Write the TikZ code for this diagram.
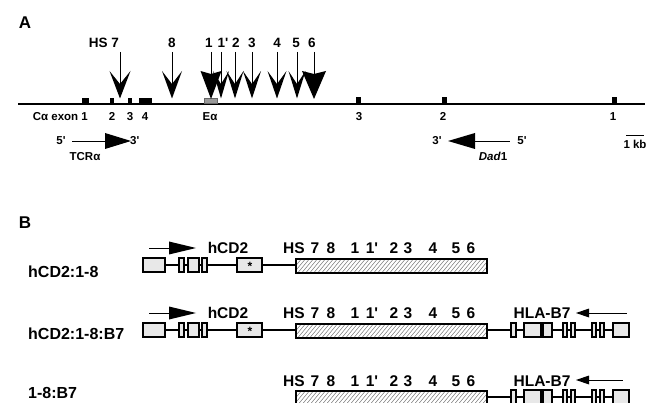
\documentclass[tikz,border=0pt]{standalone}
\usepackage{fontspec}
\setmainfont{Liberation Sans}
\newcommand{\pr}{\textquotesingle}
\begin{document}
\begin{tikzpicture}[x=1pt,y=-1pt,
  lblA/.style={font=\bfseries\fontsize{13.5}{14}\selectfont,inner sep=0pt,anchor=base},
  lblS/.style={font=\bfseries\fontsize{11.5}{12}\selectfont,inner sep=0pt,anchor=base},
  lblB/.style={font=\bfseries\fontsize{15.5}{16}\selectfont,inner sep=0pt,anchor=base},
  lblR/.style={font=\bfseries\fontsize{16}{16}\selectfont,inner sep=0pt,anchor=base west},
  panel/.style={font=\bfseries\fontsize{17}{17}\selectfont,inner sep=0pt,anchor=base},
  shaft/.style={line width=1pt},
  chrom/.style={line width=2pt},
  gline/.style={line width=2.6pt},
  exonbox/.style={fill=black!9,draw=black,line width=1.3pt},
  thin/.style={line width=0.8pt}
]
\useasboundingbox (0,0) rectangle (653,403);
\clip (0,0) rectangle (653,403);

% ---------------- Panel A ----------------
\node[panel] (pA) at (25,29) {A};

% chromosome line
\coordinate (c0) at (18,104);
\coordinate (c1) at (645,104);
\draw[chrom] (c0) -- (c1);

% exons (TCRalpha)
\fill (82,98) rectangle (89,104);
\fill (110,98) rectangle (114,104);
\fill (128,98) rectangle (132,104);
\fill (139,98) rectangle (152,104);
% Dad1 exons
\fill (356,97) rectangle (361,104);
\fill (442,97) rectangle (447,104);
\fill (612,97) rectangle (617,104);
% E alpha
\filldraw[fill=black!40,draw=black!60,line width=0.6pt] (204,98) rectangle (217,103);

% labels under line
\node[lblS,anchor=base east] (ex1) at (88,121) {Cα exon 1};
\node[lblS] (ex2) at (112,121) {2};
\node[lblS] (ex3) at (130,121) {3};
\node[lblS] (ex4) at (145,121) {4};
\node[lblS] (ea) at (210,121) {Eα};
\node[lblS] (dx3) at (359,121) {3};
\node[lblS] (dx2) at (443,121) {2};
\node[lblS] (dx1) at (613,121) {1};

% HS labels
\node[lblA,anchor=base east] (h7) at (119,48) {HS 7};
\node[lblA] (h8) at (172,48) {8};
\node[lblA] (h1) at (209,48) {1};
\node[lblA] (h1p) at (223,48) {1\pr};
\node[lblA] (h2) at (236,48) {2};
\node[lblA] (h3) at (252,48) {3};
\node[lblA] (h4) at (277,48) {4};
\node[lblA] (h5) at (296,48) {5};
\node[lblA] (h6) at (312,48) {6};

% open (chevron) arrows
\foreach \x/\w in {120/10.5,172/10,221/8,235/8.5,252/9,277/9.5,297/8.5}{
  \draw[shaft] (\x,52) -- (\x,88);
  \fill (\x-\w,71) -- (\x,98.5) -- (\x+\w,71) -- (\x,84) -- cycle;
}
% filled arrows
\foreach \x/\w in {211/10.5,314/12}{
  \draw[shaft] (\x,52) -- (\x,80);
  \fill (\x-\w,71) -- (\x,99) -- (\x+\w,71) -- (\x,74) -- cycle;
}

% TCR alpha transcription arrow
\node[lblS] (t5) at (61,145) {5\pr};
\node[lblS,anchor=base west] (t3) at (130,145) {3\pr};
\coordinate (ta) at (72,141);
\coordinate (tb) at (106,141);
\draw[thin] (ta) -- (tb);
\fill (105,133) -- (131,141) -- (105,149) -- cycle;
\node[lblS] (tcr) at (85,161) {TCRα};

% Dad1 transcription arrow
\node[lblS] (d3) at (437,145) {3\pr};
\node[lblS] (d5) at (522,145) {5\pr};
\coordinate (da) at (474,141);
\coordinate (db) at (510,141);
\draw[thin] (da) -- (db);
\fill (475,133) -- (448,141) -- (475,149) -- cycle;
\node[lblS] (dad) at (493,161) {\textit{Dad}1};

% scale bar
\node[lblS] (kb) at (635,149) {1 kb};
\draw[thin] (626,135) -- (644,135);

% ---------------- Panel B ----------------
\node[panel] (pB) at (25,229) {B};

\node[lblR] (r1) at (28,277) {hCD2:1-8};
\node[lblR] (r2) at (28,339) {hCD2:1-8:B7};
\node[lblR] (r3) at (28,398) {1-8:B7};

% HS labels + hatched region, for each row
\foreach \s in {0,65,132}{
\begin{scope}[shift={(0,\s)}]
  \node[lblB] at (294,254) {HS};
  \node[lblB] at (315,254) {7};
  \node[lblB] at (331,254) {8};
  \node[lblB] at (355,254) {1};
  \node[lblB] at (372,254) {1\pr};
  \node[lblB] at (394,254) {2};
  \node[lblB] at (408,254) {3};
  \node[lblB] at (433,254) {4};
  \node[lblB] at (456,254) {5};
  \node[lblB] at (471,254) {6};
  \begin{scope}
    \clip (296,259) rectangle (487,273);
    \foreach \i in {0,...,52}{
      \draw[black!55,line width=0.5pt] (284+\i*4,275) -- ++(15,-18);
    }
  \end{scope}
  \draw[line width=1.2pt] (296,259) rectangle (487,273);
\end{scope}
}

% hCD2 constructs (rows 1 and 2)
\foreach \s in {0,65}{
\begin{scope}[shift={(0,\s)}]
  \draw[gline] (143,265) -- (296,265);
  \draw[exonbox] (143,258) rectangle (165,272);
  \draw[exonbox] (179,258) rectangle (184,272);
  \draw[exonbox] (188,258) rectangle (199,272);
  \draw[exonbox] (202,258) rectangle (207,272);
  \draw[exonbox] (237,258) rectangle (262,272);
  \node[font=\bfseries\fontsize{12}{12}\selectfont,inner sep=0pt] at (250,266) {*};
  \draw[thin] (149,248) -- (170,248);
  \fill (169,241.5) -- (196,248) -- (169,254.5) -- cycle;
  \node[lblB] at (228,254) {hCD2};
\end{scope}
}

% HLA-B7 constructs (rows 2 and 3)
\foreach \s/\e in {65/627,132/623}{
\begin{scope}[shift={(0,\s)}]
  \draw[gline] (487,265) -- (613,265);
  \draw[exonbox] (511,258) rectangle (516,272);
  \draw[exonbox] (524,258) rectangle (541,272);
  \draw[exonbox] (543,258) rectangle (552,272);
  \draw[exonbox] (563,258) rectangle (567,272);
  \draw[exonbox] (571,258) rectangle (575,272);
  \draw[exonbox] (592,258) rectangle (596,272);
  \draw[exonbox] (600,258) rectangle (604,272);
  \draw[exonbox] (613,258) rectangle (629,272);
  \node[lblB] at (542,254) {HLA-B7};
  \draw[thin] (587,248) -- (\e,248);
  \fill (589,243.5) -- (576,248) -- (589,252.5) -- cycle;
\end{scope}
}
\end{tikzpicture}
\end{document}
